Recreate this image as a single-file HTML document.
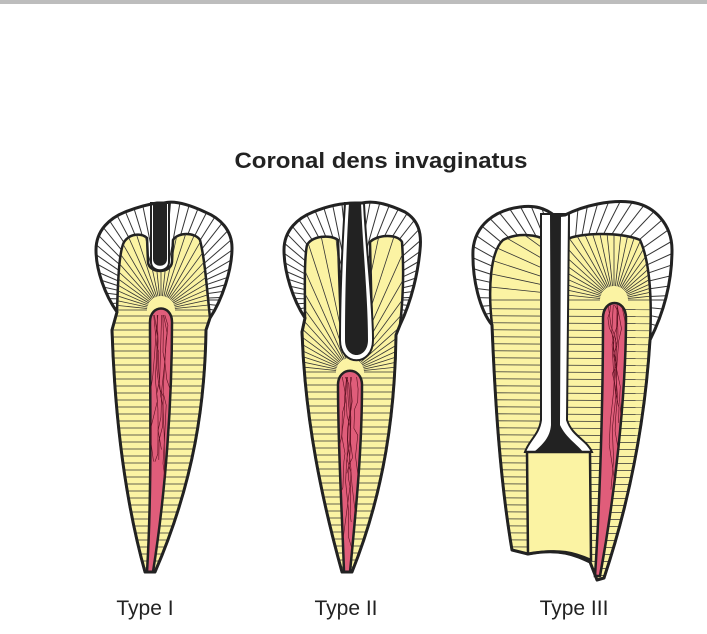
<!DOCTYPE html>
<html><head><style>
html,body{margin:0;padding:0;background:#fff;}
svg{display:block}
</style></head><body>
<svg id="s" width="707" height="634" viewBox="0 0 707 634" xmlns="http://www.w3.org/2000/svg">
<rect x="0" y="0" width="707" height="4" fill="#bdbdbd"/>
<text x="381" y="168" text-anchor="middle" font-family="Liberation Sans, sans-serif" font-weight="bold" font-size="22" textLength="293" lengthAdjust="spacingAndGlyphs" fill="#222">Coronal dens invaginatus</text>
<text x="145" y="615" text-anchor="middle" font-family="Liberation Sans, sans-serif" font-size="21" fill="#222">Type I</text>
<text x="346" y="615" text-anchor="middle" font-family="Liberation Sans, sans-serif" font-size="21" fill="#222">Type II</text>
<text x="574" y="615" text-anchor="middle" font-family="Liberation Sans, sans-serif" font-size="21" fill="#222">Type III</text>
<g id="teeth"></g>
</svg>
<script>
var NS="http://www.w3.org/2000/svg";
var g=document.getElementById('teeth');
var defs=document.createElementNS(NS,'defs');document.getElementById('s').appendChild(defs);
var cid=0;
function el(tag,attrs,parent){var e=document.createElementNS(NS,tag);for(var k in attrs)e.setAttribute(k,attrs[k]);(parent||g).appendChild(e);return e;}
function clip(d){var id='c'+(cid++);var c=el('clipPath',{id:id},defs);el('path',{d:d},c);return id;}
function tooth(o){
  el('path',{d:o.outer,fill:'#fff'});
  var gc=el('g',{'clip-path':'url(#'+clip(o.outer)+')'});
  for(var a=0;a<360;a+=5.5){var r=a*Math.PI/180;el('line',{x1:o.ec[0],y1:o.ec[1],x2:o.ec[0]+300*Math.cos(r),y2:o.ec[1]+300*Math.sin(r),stroke:'#333','stroke-width':1},gc);}
  el('path',{d:o.dentin,fill:'#fbf3a3',stroke:'#222','stroke-width':2.5});
  var gd=el('g',{'clip-path':'url(#'+clip(o.dentin)+')'});
  var tx=o.pt[0],ty=o.pt[1];
  for(var a=180;a<=360;a+=6){var r=a*Math.PI/180;el('line',{x1:tx+14*Math.cos(r),y1:ty+14*Math.sin(r),x2:tx+300*Math.cos(r),y2:ty+300*Math.sin(r),stroke:'#333','stroke-width':0.8},gd);}
  for(var y=ty+6;y<600;y+=7){el('line',{x1:0,y1:y,x2:707,y2:y+(o.tilt||0),stroke:'#333','stroke-width':0.8},gd);}
  if(o.extra)o.extra();
  el('path',{d:o.pulp,fill:'#e05d7a',stroke:'#222','stroke-width':2.5});
  var gp=el('g',{'clip-path':'url(#'+clip(o.pulp)+')'});
  for(var i=0;i<8;i++){var x=tx-8+Math.random()*16,y=ty+5;var d='M'+x+','+y;for(var j=0;j<8;j++){x+=(Math.random()-0.5)*8;y+=6+Math.random()*25;d+=' L'+x.toFixed(1)+','+y.toFixed(1);}el('path',{d:d,fill:'none',stroke:'#5a1020','stroke-width':0.6},gp);}
  el('path',{d:o.outer,fill:'none',stroke:'#222','stroke-width':3,'stroke-linejoin':'round'});
}
tooth({
 outer:'M157,203 L164,203 C175,200 190,205 205,212 C220,218 232,230 232,248 C232,270 222,300 210,318 L206,330 C205,400 195,480 155,572 L145,572 C125,500 115,420 112,330 L117,312 C105,295 96,270 96,250 C96,230 110,218 125,212 C138,207 150,204 157,203 Z',
 ec:[162,300],
 dentin:'M117,312 C118,280 119,252 124,242 C130,233 142,233 147,238 L148,262 C149,274 171,274 172,262 L173,240 C178,232 195,232 200,240 C205,260 207,290 210,318 L206,330 C205,400 195,480 155,572 L145,572 C125,500 115,420 112,330 Z',
 pt:[161,310],
 pulp:'M150,322 C150,304 172,304 172,322 C172,400 166,490 153,572 L147,572 C152,490 150,400 150,322 Z',
 extra:function(){el('path',{d:'M151,203 L169,203 L169,262 C169,273 151,273 151,262 Z',fill:'#fff',stroke:'#222','stroke-width':2});el('path',{d:'M153,203 L167,203 L167,259 C167,268 153,268 153,259 Z',fill:'#222'});}
});
tooth({
 outer:'M355,203 L362,203 C375,200 390,205 405,212 C418,220 422,232 420,250 C418,272 412,300 400,325 L396,335 C395,410 385,490 352,572 L342,572 C322,500 305,420 302,332 L305,318 C293,300 284,272 284,250 C284,230 298,218 313,212 C330,205 345,203 355,203 Z',
 ec:[352,300],
 dentin:'M305,318 C305,290 304,260 307,245 C312,236 330,234 338,240 L341,330 C342,362 372,362 372,330 L370,242 C378,234 398,234 402,242 C404,270 403,300 400,325 L396,335 C395,410 385,490 352,572 L342,572 C322,500 305,420 302,332 Z',
 pt:[350,372],
 pulp:'M338,385 C338,366 362,366 362,385 C362,450 356,510 350,572 L344,572 C342,510 338,450 338,385 Z',
 extra:function(){el('path',{d:'M345,203 L364,203 C366,250 373,300 373,340 C373,367 340,367 340,340 C340,300 342,250 345,203 Z',fill:'#fff',stroke:'#222','stroke-width':2});el('path',{d:'M349,203 L361,203 C363,250 368,300 368,340 C368,360 345,360 345,340 C345,300 346,250 349,203 Z',fill:'#222'});}
});
tooth({
 outer:'M555,216 C545,208 535,205 520,207 C495,210 475,225 473,250 C472,280 480,310 492,325 C495,400 500,480 512,550 L528,554 C560,548 575,555 590,562 L597,580 L604,578 C630,500 645,420 650,340 C660,320 672,290 672,250 C672,225 655,205 630,202 C610,200 585,205 565,215 Z',
 ec:[570,300],
 dentin:'M492,325 C488,290 490,252 503,240 C518,232 538,235 545,240 L565,240 C580,232 622,232 640,240 C650,262 652,300 650,340 C645,420 630,500 604,578 L597,580 L590,562 C575,555 560,548 528,554 L512,550 C500,480 495,400 492,325 Z',
 pt:[614,300], tilt:4,
 pulp:'M603,318 C603,298 626,298 626,318 C626,400 614,500 600,576 L595,576 C600,500 603,400 603,318 Z',
 extra:function(){
  el('path',{d:'M541,214 L569,214 L567,420 C572,436 587,440 592,452 L525,452 C529,440 539,435 541,420 Z',fill:'#fff',stroke:'#222','stroke-width':2});
  el('path',{d:'M550,214 L561,214 L560,425 C566,438 578,445 583,452 L534,452 C542,445 550,438 551,425 Z',fill:'#222'});
  el('path',{d:'M527,452 L590,452 L591,560 C575,553 560,548 528,554 Z',fill:'#fbf3a3',stroke:'#222','stroke-width':2.5});
 }
});
</script>
</body></html>
